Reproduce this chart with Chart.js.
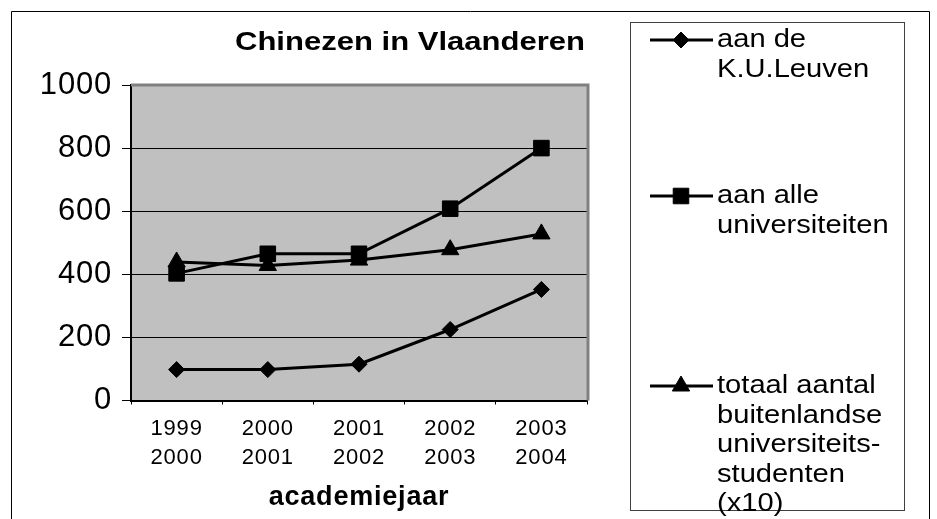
<!DOCTYPE html>
<html>
<head>
<meta charset="utf-8">
<script src="https://cdn.jsdelivr.net/npm/chart.js@4"></script>
<style>
  html, body { margin: 0; padding: 0; background: #fff; }
  canvas { display: block; }
</style>
</head>
<body>
<canvas id="chart" width="937" height="519"></canvas>
<script>
// data
const categories = [['1999', '2000'], ['2000', '2001'], ['2001', '2002'], ['2002', '2003'], ['2003', '2004']];
const kuLeuven = [98, 98, 115, 225, 352];
const alleUniversiteiten = [403, 465, 465, 608, 800];
const totaalBuitenlands = [439, 428, 445, 478, 528];
const yTicks = [0, 200, 400, 600, 800, 1000];
const legendLines = [
  ['aan de', 'K.U.Leuven'],
  ['aan alle', 'universiteiten'],
  ['totaal aantal', 'buitenlandse', 'universiteits-', 'studenten', '(x10)']
];
const titleText = 'Chinezen in Vlaanderen';
const xTitle = 'academiejaar';

const FONT = "'Liberation Sans', Arial, sans-serif";

const excelLook = {
  id: 'excelLook',
  beforeUpdate(chart) {
    chart.ctx.letterSpacing = '0.8px';
  },
  beforeDraw(chart) {
    const { ctx, chartArea: a } = chart;
    ctx.save();
    ctx.fillStyle = '#fff';
    ctx.fillRect(0, 0, chart.width, chart.height);
    ctx.fillStyle = '#c0c0c0';
    ctx.fillRect(a.left, a.top, a.right - a.left, a.bottom - a.top);
    ctx.restore();
  },
  beforeDatasetsDraw(chart) {
    const { ctx, chartArea: a } = chart;
    ctx.save();
    ctx.strokeStyle = '#808080';
    ctx.lineWidth = 3;
    ctx.beginPath();
    ctx.moveTo(a.left, a.top);
    ctx.lineTo(a.right + 1, a.top);
    ctx.lineTo(a.right + 1, a.bottom);
    ctx.stroke();
    ctx.restore();
  },
  afterDraw(chart) {
    const ctx = chart.ctx;
    ctx.save();
    ctx.letterSpacing = '0px';

    // outer frame
    ctx.strokeStyle = '#000';
    ctx.lineWidth = 1;
    ctx.beginPath();
    ctx.moveTo(11.5, chart.height);
    ctx.lineTo(11.5, 11.5);
    ctx.lineTo(929.5, 11.5);
    ctx.lineTo(929.5, chart.height);
    ctx.stroke();

    // title
    ctx.fillStyle = '#000';
    ctx.font = 'bold 25px ' + FONT;
    ctx.textAlign = 'left';
    ctx.textBaseline = 'alphabetic';
    const tw = ctx.measureText(titleText).width;
    ctx.save();
    ctx.translate(235, 50);
    ctx.scale(350 / tw, 1);
    ctx.fillText(titleText, 0, 0);
    ctx.restore();

    // legend box
    ctx.strokeStyle = '#404040';
    ctx.strokeRect(630.5, 22.5, 274, 488);

    const rowTops = [40, 196, 386];
    const step = 29.5;
    chart.data.datasets.forEach((ds, i) => {
      const y = rowTops[i];
      ctx.strokeStyle = '#000';
      ctx.lineWidth = 3;
      ctx.beginPath();
      ctx.moveTo(650, y);
      ctx.lineTo(713, y);
      ctx.stroke();
      ctx.fillStyle = '#000';
      ctx.lineWidth = 1;
      Chart.helpers.drawPoint(ctx, {
        pointStyle: ds.pointStyle, radius: ds.pointRadius, rotation: 0, borderWidth: 1
      }, 681, y);
      ctx.font = '26px ' + FONT;
      ctx.textBaseline = 'middle';
      legendLines[i].forEach((t, j) => {
        ctx.save();
        ctx.translate(717, y + j * step);
        ctx.scale(1.12, 1);
        ctx.fillText(t, 0, 0);
        ctx.restore();
      });
    });
    ctx.restore();
  }
};

const base = {
  borderColor: '#000', backgroundColor: '#000', borderWidth: 3,
  pointBackgroundColor: '#000', pointBorderColor: '#000', pointBorderWidth: 1,
  tension: 0
};

new Chart(document.getElementById('chart'), {
  type: 'line',
  data: {
    labels: categories,
    datasets: [
      Object.assign({ label: 'aan de K.U.Leuven', data: kuLeuven, pointStyle: 'rectRot', pointRadius: 8 }, base),
      Object.assign({ label: 'aan alle universiteiten', data: alleUniversiteiten, pointStyle: 'rect', pointRadius: 11 }, base),
      Object.assign({ label: 'totaal aantal buitenlandse universiteitsstudenten (x10)', data: totaalBuitenlands, pointStyle: 'triangle', pointRadius: 10 }, base)
    ]
  },
  options: {
    responsive: false,
    animation: false,
    layout: { padding: { top: 85, right: 350, bottom: 0, left: 0 } },
    plugins: {
      legend: { display: false },
      title: { display: false },
      tooltip: { enabled: false }
    },
    scales: {
      x: {
        offset: true,
        grid: { offset: true, drawOnChartArea: false, tickLength: 4, tickColor: '#000', tickWidth: 1 },
        border: { color: '#000', width: 2 },
        ticks: {
          color: '#000', padding: 10, maxRotation: 0, autoSkip: false,
          font: { family: FONT, size: 22, lineHeight: 29 / 22 }
        },
        title: {
          display: true, text: xTitle, color: '#000',
          font: { family: FONT, size: 27, weight: 'bold' },
          padding: { top: 5, bottom: 5 }
        },
        afterFit(s) { s.height = 118.5; }
      },
      y: {
        min: 0,
        max: 1000,
        afterBuildTicks(s) { s.ticks = yTicks.map(v => ({ value: v })); },
        grid: {
          color: c => (c.tick && c.tick.value === 1000 ? 'rgba(0,0,0,0)' : '#000'),
          tickColor: '#000', tickLength: 9, lineWidth: 1
        },
        border: { color: '#000', width: 2 },
        ticks: { color: '#000', padding: 10, font: { family: FONT, size: 31 }, callback: v => String(v) },
        afterFit(s) { s.width = 131; }
      }
    }
  },
  plugins: [excelLook]
});
</script>
</body>
</html>
